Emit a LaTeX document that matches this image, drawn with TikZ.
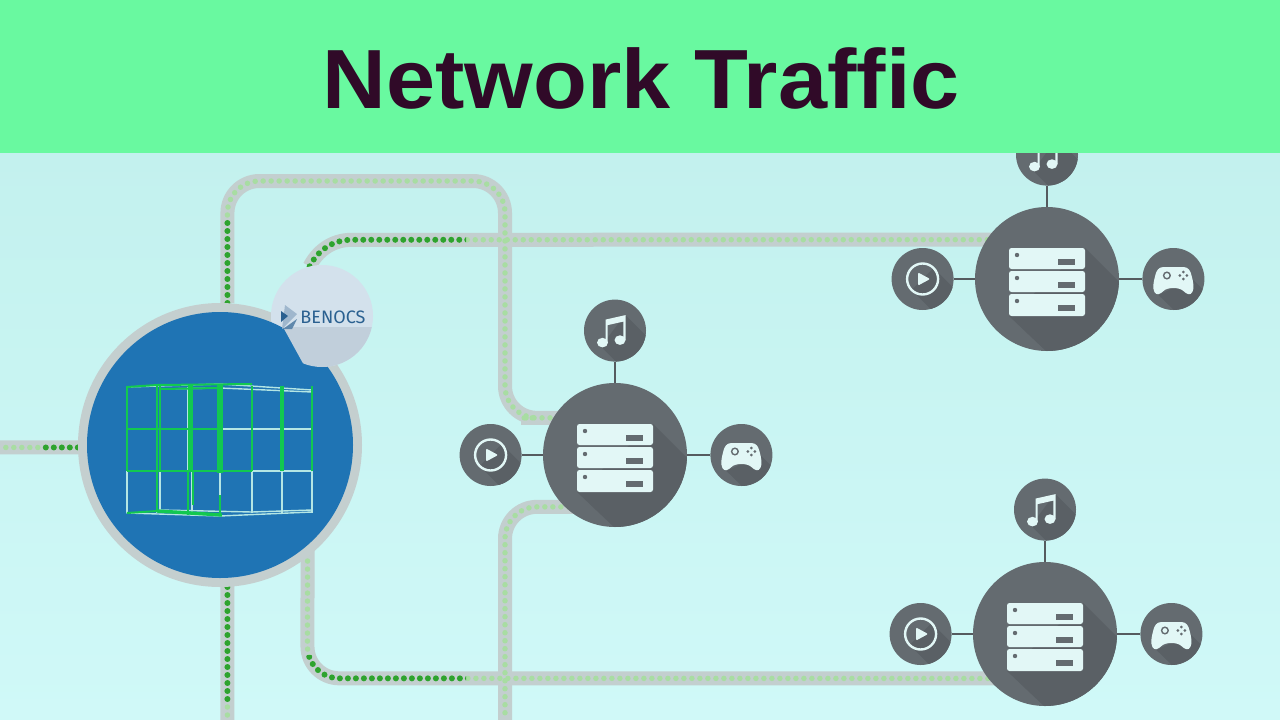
\documentclass[tikz,border=0pt]{standalone}
\usepackage{fontspec}
\setmainfont{Fira Sans}
\newfontfamily\titlefont[UprightFont={* Bold},FakeStretch=1.05]{Liberation Sans}
\usetikzlibrary{
  backgrounds, % to keep the ducts under the nodes
  positioning, % for relative positioning of the icons
}
\definecolor{bannergreen}{HTML}{69F9A0}
\definecolor{titleink}{HTML}{300A28}
\definecolor{seatop}{HTML}{C3F1EE}
\definecolor{seabottom}{HTML}{D0F9F8}
\definecolor{pipegray}{HTML}{C3CFCF}
\definecolor{dotdark}{HTML}{2EA32E}
\definecolor{dotlight}{HTML}{A8DDA2}
\definecolor{hubblue}{HTML}{1F74B4}
\definecolor{hubrim}{HTML}{C4CFCF}
\definecolor{badgetop}{HTML}{D3E1EC}
\definecolor{badgelow}{HTML}{C1CFDB}
\definecolor{nodegray}{HTML}{646B70}
\definecolor{nodeshadow}{HTML}{5A6065}
\definecolor{iconpale}{HTML}{E2F7F6}
\definecolor{logoblue}{HTML}{2A6090}
\definecolor{cubegreen}{HTML}{12C850}
\definecolor{cubepale}{HTML}{B4E6E4}
\tikzset{
  server/.style={ % style for the large server circles
    circle,fill=nodegray,
    inner sep=0pt,
    minimum size=144pt,
  },
  icon/.style={ % style for the three small icon circles
    circle,fill=nodegray,
    inner sep=0pt,
    minimum size=62pt,
    node distance=21pt, % gap between server and its icons
  },
  pipe/.style={ % style for the gray duct
    draw=pipegray,
    line width=14pt,
    rounded corners=32pt,
  },
  dotslight/.style={ % pale dots inside a duct
    draw=dotlight,
    line width=5.5pt,
    line cap=round,
    dash pattern=on 0pt off 8pt,
    rounded corners=32pt,
  },
  dotsdark/.style={ % saturated dots inside a duct
    dotslight,
    draw=dotdark,
    line width=6pt,
  },
  link/.style={ % thin line from server to icon
    draw=nodegray!85!black,
    line width=1.5pt,
  },
  cubeline/.style={ % pale line of the cube
    draw=cubepale,
    line width=1.4pt,
  },
  cubegr/.style={ % green line of the cube
    draw=cubegreen,
    line width=2pt,
  },
  rack/.pic={ % three stacked server units with long shadow
    \begin{scope}
      \clip (0,0) circle [radius=72];
      \fill[nodeshadow] (38,-31) -- (110,41) -- (40,111) -- (-38,37) -- cycle;
    \end{scope}
    \foreach \top/\bot in {-31/-10,-8/13,15/37} {
      \fill[iconpale,rounded corners=2.5pt] (-38,\top) rectangle (38,\bot);
      \fill[nodegray] (-30,\top+7) circle [radius=2.2];
      \fill[nodegray] (11,\top+11) rectangle (28,\top+17);
    }
  },
  playicon/.pic={ % ring with triangle
    \begin{scope}
      \clip (0,0) circle [radius=31];
      \fill[nodeshadow] (11,-11) -- (41,19) -- (19,41) -- (-11,11) -- cycle;
    \end{scope}
    \draw[iconpale,line width=2.4pt] (0,0) circle [radius=15.5];
    \fill[iconpale,rounded corners=1pt] (-4.5,-6.5) -- (7.5,0) -- (-4.5,6.5) -- cycle;
  },
  musicicon/.pic={ % pair of beamed notes
    \begin{scope}
      \clip (0,0) circle [radius=31];
      \fill[nodeshadow] (10,-16) -- (40,14) -- (10,40) -- (-14,16) -- cycle;
    \end{scope}
    \fill[iconpale] (-12.5,12) ellipse [x radius=5.5,y radius=4.8];
    \fill[iconpale] (5,9.5) ellipse [x radius=5.5,y radius=4.8];
    \fill[iconpale] (-9.5,12) -- (-9.5,-11) -- (10.5,-15.5) -- (10.5,9.5) -- (8.3,9.5)
      -- (8.3,-9) -- (-7.3,-5.5) -- (-7.3,12) -- cycle;
  },
  gameicon/.pic={ % game controller
    \begin{scope}
      \clip (0,0) circle [radius=31];
      \fill[nodeshadow] (19,0) -- (45,26) -- (15,45) -- (-15,16) -- cycle;
    \end{scope}
    \fill[iconpale] (-10,-12) -- (10,-12) .. controls (15,-12) and (17,-8) .. (18,-4)
      .. controls (20,3) and (21,9) .. (19,13) .. controls (17,17) and (13,15) .. (10,12)
      .. controls (6,8) and (-6,8) .. (-10,12) .. controls (-13,15) and (-17,17) .. (-19,13)
      .. controls (-21,9) and (-20,3) .. (-18,-4) .. controls (-17,-8) and (-15,-12) .. (-10,-12) -- cycle;
    \draw[nodegray,line width=1.4pt] (-6.5,-3.5) circle [radius=3.3];
    \foreach \dx/\dy in {10/-7,6.5/-3.5,13.5/-3.5,10/0} {
      \fill[nodegray] (\dx,\dy) circle [radius=1.5];
    }
  },
  ductup/.style={insert path={(hub.87) -- (227.43,181) -- (505,181) -- (505,417.92) -- (mid.149) -- ++(12,0)}},
  ductbadge/.style={insert path={(badge.104) .. controls (317,252) and (331,239.79) .. (352,239.79) -- (upper.147) -- ++(12,0)}},
  ductcross/.style={insert path={(mid.226) ++(12,0) -- (505,506.79) -- (outcross)}},
  ductlow/.style={insert path={(hub.-52) ++(0,-12) -- (307.42,678.33) -- (lower.218) -- ++(12,0)}},
}
\begin{document}
\begin{tikzpicture}[x=1pt,y=-1pt]
	\useasboundingbox (0,0) rectangle (1280,720);
	\clip (0,0) rectangle (1280,720);
	
	% hub and logo badge
	\node (hub) [circle,fill=hubrim,inner sep=0pt,minimum size=284pt] at (220,445) {};
	\node (badge) [circle,fill=badgetop,inner sep=0pt,minimum size=102pt] at (322,316) {};
	\coordinate (inleft) at (0,447.48);
	\coordinate (inmark) at (38,447.48);
	\coordinate (outbottom) at (227.43,720);
	\coordinate (outcross) at (505,720);
	
	% hub face and cube
	\fill[hubblue] (hub.center) circle [radius=133];
	\foreach \x in {127,157,160,188,192,220,252,282,312} {
		\draw[cubeline] (\x,387) -- (\x,513);
	}
	\foreach \y in {429,471} {
		\draw[cubeline] (127,\y) -- (312,\y);
	}
	\draw[cubeline] (127,387) -- (220,384) -- (312,390) -- (312,512) -- (220,516) -- (127,513) -- cycle;
	\draw[cubeline] (160,389) -- (220,388) -- (312,392);
	\draw[cubeline] (160,510) -- (252,512) -- (312,510);
	% green parts of the cube
	\foreach \x/\w in {127/1.8,157/2.4,160/2,252/2.2,282/3.2,312/1.2} {
		\draw[cubegr,line width=\w pt] (\x,386) -- (\x,471);
	}
	\draw[cubegr,line width=2pt] (157,471) -- (157,512);
	\draw[cubegr,line width=5pt] (190,384) -- (190,471);
	\draw[cubegr,line width=2pt] (188,471) -- (188,515);
	\draw[cubegr,line width=1.8pt] (193,471) -- (193,505);
	\draw[cubegr,line width=5.5pt] (220,384) -- (220,473);
	\draw[cubegr,line width=2.4pt] (220,495) -- (220,516);
	\draw[cubegr] (127,387) -- (157,385) -- (252,384);
	\draw[cubegr] (160,389) -- (220,388);
	\draw[cubegr] (127,429) -- (222,429);
	\draw[cubegr] (127,471) -- (252,471);
	\draw[cubegr,line width=3.4pt] (157,511) -- (190,513) -- (222,515);
	\draw[cubegr] (127,513) -- (157,511);
	
	% logo badge
	\begin{scope}
		\clip (badge.center) circle [radius=51];
		\fill[badgelow] (283,327) -- (305,367) -- (373,367) -- (373,327) -- cycle;
	\end{scope}
	\fill[logoblue!45!white] (285,305) -- (297,314) -- (282,329) -- cycle;
	\fill[logoblue!75!white] (297,319) -- (283,329) -- (292,329) -- cycle;
	\fill[logoblue] (281,311) -- (288,316) -- (281,322) -- cycle;
	\node (logo) [text=logoblue,font=\fontsize{18}{18}\selectfont,inner sep=0pt] at (333,317.5) {BENOCS};
	
	% servers with their icons
	\foreach \name/\cx/\cy in {mid/615/455,upper/1047/279,lower/1045/634} {
		\node (\name) [server] at (\cx,\cy) {};
		\node (\name-music) [icon,above=of \name] {};
		\node (\name-play) [icon,left=of \name] {};
		\node (\name-game) [icon,right=of \name,xshift=2pt] {};
		\draw[link] (\name) -- (\name-music);
		\draw[link] (\name) -- (\name-play);
		\draw[link] (\name) -- (\name-game);
		\pic at (\name) {rack};
		\pic at (\name-music) {musicicon};
		\pic at (\name-play) {playicon};
		\pic at (\name-game) {gameicon};
	}
	
	% ducts go under everything above
	\begin{pgfonlayer}{background}
		\shade[top color=seatop,bottom color=seabottom] (0,150) rectangle (1280,720);
		\draw[pipe] (hub.181) ++(8,0) -- (inleft);
		\draw[pipe,ductup];
		\draw[pipe,sharp corners,ductbadge];
		\draw[pipe,ductcross];
		\draw[pipe,ductlow];
		\draw[pipe] (hub.-87) ++(0,-8) -- (outbottom);
		
		\draw[dotslight] (hub.181) -- (inleft);
		\draw[dotslight,ductup];
		\draw[dotslight,sharp corners,ductbadge];
		\draw[dotslight,ductcross];
		\draw[dotslight,ductlow];
		\draw[dotslight] (hub.-87) -- (outbottom);
		
		\draw[dotsdark] (hub.181) -- (inmark);
		\draw[dotsdark] (hub.87) -- (227.43,222);
		\begin{scope}
			\clip (295,230) rectangle (466,275);
			\draw[dotsdark,sharp corners,ductbadge];
		\end{scope}
		\begin{scope}
			\clip (300,655) rectangle (466,690);
			\draw[dotsdark,ductlow];
		\end{scope}
		\draw[dotsdark] (hub.-87) -- (227.43,702);
	\end{pgfonlayer}
	
	% banner
	\fill[bannergreen] (0,0) rectangle (1280,152.5);
	\node (title) [text=titleink,font=\titlefont\fontsize{84}{84}\selectfont,inner sep=0pt,anchor=base] at (641,108) {Network Traffic};
\end{tikzpicture}
\end{document}
